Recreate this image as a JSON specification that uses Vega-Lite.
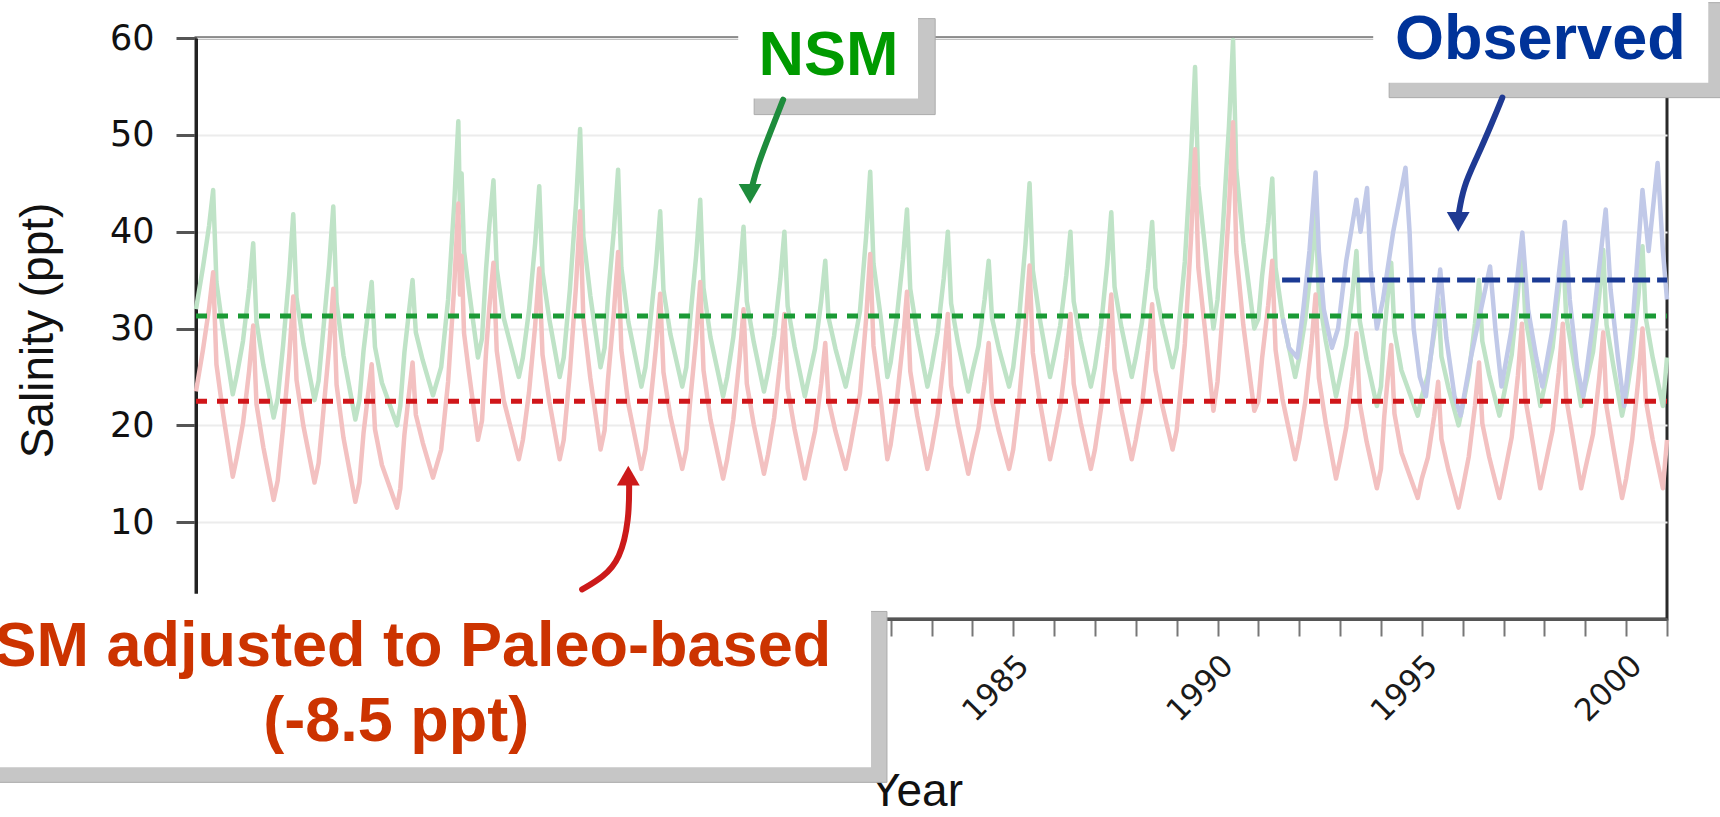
{
  "$schema": "https://vega.github.io/schema/vega-lite/v6.json",
  "width": 1471,
  "height": 581,
  "autosize": {"type": "none"},
  "padding": {"left": 196, "top": 38, "right": 53, "bottom": 198},
  "background": "white",
  "config": {"view": {"stroke": "#2a2a2a", "strokeWidth": 3}, "font": "Liberation Sans"},
  "resolve": {"scale": {"color": "independent"}},
  "datasets": {
    "nsm": [
      {"t":1965.0,"nsm":32,"adj":23.5},{"t":1965.17,"nsm":36.3,"adj":27.8},{"t":1965.32,"nsm":40.6,"adj":32.1},{"t":1965.42,"nsm":44.3,"adj":35.8},{"t":1965.5,"nsm":34.8,"adj":26.3},{"t":1965.67,"nsm":29.5,"adj":21},{"t":1965.9,"nsm":23.2,"adj":14.7},
      {"t":1966.0,"nsm":25.2,"adj":16.7},{"t":1966.15,"nsm":28.7,"adj":20.2},{"t":1966.3,"nsm":34.1,"adj":25.6},{"t":1966.4,"nsm":38.8,"adj":30.3},{"t":1966.48,"nsm":30.7,"adj":22.2},{"t":1966.65,"nsm":26.2,"adj":17.7},{"t":1966.9,"nsm":20.8,"adj":12.3},
      {"t":1967.0,"nsm":22.8,"adj":14.3},{"t":1967.13,"nsm":28.2,"adj":19.7},{"t":1967.28,"nsm":35.5,"adj":27},{"t":1967.38,"nsm":41.8,"adj":33.3},{"t":1967.46,"nsm":33.2,"adj":24.7},{"t":1967.63,"nsm":28.4,"adj":19.9},{"t":1967.9,"nsm":22.6,"adj":14.1},
      {"t":1968.0,"nsm":24.6,"adj":16.1},{"t":1968.11,"nsm":29.6,"adj":21.1},{"t":1968.26,"nsm":36.6,"adj":28.1},{"t":1968.36,"nsm":42.6,"adj":34.1},{"t":1968.44,"nsm":32.7,"adj":24.2},{"t":1968.61,"nsm":27.2,"adj":18.7},{"t":1968.9,"nsm":20.6,"adj":12.1},
      {"t":1969.0,"nsm":22.6,"adj":14.1},{"t":1969.1,"nsm":27.7,"adj":19.2},{"t":1969.2,"nsm":31.3,"adj":22.8},{"t":1969.3,"nsm":34.8,"adj":26.3},{"t":1969.38,"nsm":28.1,"adj":19.6},{"t":1969.55,"nsm":24.4,"adj":15.9},{"t":1969.92,"nsm":20.0,"adj":11.5},
      {"t":1970.0,"nsm":22,"adj":13.5},{"t":1970.1,"nsm":27.5,"adj":19},{"t":1970.2,"nsm":31.3,"adj":22.8},{"t":1970.3,"nsm":35,"adj":26.5},{"t":1970.38,"nsm":29.6,"adj":21.1},{"t":1970.55,"nsm":26.7,"adj":18.2},{"t":1970.8,"nsm":23.1,"adj":14.6},
      {"t":1971.0,"nsm":26,"adj":17.5},{"t":1971.17,"nsm":33,"adj":24.5},{"t":1971.32,"nsm":42.9,"adj":34.4},{"t":1971.42,"nsm":51.4,"adj":42.9},{"t":1971.46,"nsm":42,"adj":33.5},{"t":1971.5,"nsm":46,"adj":37.5},{"t":1971.56,"nsm":38,"adj":29.5},{"t":1971.67,"nsm":34.3,"adj":25.8},{"t":1971.9,"nsm":27,"adj":18.5},
      {"t":1972.0,"nsm":29,"adj":20.5},{"t":1972.1,"nsm":36.2,"adj":27.7},{"t":1972.18,"nsm":40.7,"adj":32.2},{"t":1972.28,"nsm":45.3,"adj":36.8},{"t":1972.36,"nsm":36.2,"adj":27.7},{"t":1972.53,"nsm":31.1,"adj":22.6},{"t":1972.9,"nsm":25,"adj":16.5},
      {"t":1973.0,"nsm":27,"adj":18.5},{"t":1973.15,"nsm":31.9,"adj":23.4},{"t":1973.3,"nsm":38.8,"adj":30.3},{"t":1973.4,"nsm":44.7,"adj":36.2},{"t":1973.48,"nsm":35.8,"adj":27.3},{"t":1973.65,"nsm":30.9,"adj":22.4},{"t":1973.9,"nsm":25,"adj":16.5},
      {"t":1974.0,"nsm":27,"adj":18.5},{"t":1974.15,"nsm":34,"adj":25.5},{"t":1974.3,"nsm":42.9,"adj":34.4},{"t":1974.4,"nsm":50.6,"adj":42.1},{"t":1974.48,"nsm":39.5,"adj":31},{"t":1974.65,"nsm":33.4,"adj":24.9},{"t":1974.9,"nsm":26,"adj":17.5},
      {"t":1975.0,"nsm":28,"adj":19.5},{"t":1975.08,"nsm":33.1,"adj":24.6},{"t":1975.23,"nsm":40.3,"adj":31.8},{"t":1975.33,"nsm":46.4,"adj":37.9},{"t":1975.41,"nsm":36.3,"adj":27.8},{"t":1975.58,"nsm":30.7,"adj":22.2},{"t":1975.9,"nsm":24,"adj":15.5},
      {"t":1976.0,"nsm":26,"adj":17.5},{"t":1976.11,"nsm":30.3,"adj":21.8},{"t":1976.26,"nsm":36.7,"adj":28.2},{"t":1976.36,"nsm":42.1,"adj":33.6},{"t":1976.44,"nsm":34,"adj":25.5},{"t":1976.61,"nsm":29.4,"adj":20.9},{"t":1976.9,"nsm":24,"adj":15.5},
      {"t":1977.0,"nsm":26,"adj":17.5},{"t":1977.09,"nsm":30.8,"adj":22.3},{"t":1977.24,"nsm":37.5,"adj":29},{"t":1977.34,"nsm":43.3,"adj":34.8},{"t":1977.42,"nsm":34.2,"adj":25.7},{"t":1977.59,"nsm":29.1,"adj":20.6},{"t":1977.9,"nsm":23,"adj":14.5},
      {"t":1978.0,"nsm":25,"adj":16.5},{"t":1978.15,"nsm":29.1,"adj":20.6},{"t":1978.3,"nsm":35.3,"adj":26.8},{"t":1978.4,"nsm":40.5,"adj":32},{"t":1978.48,"nsm":32.8,"adj":24.3},{"t":1978.65,"nsm":28.6,"adj":20.1},{"t":1978.9,"nsm":23.5,"adj":15},
      {"t":1979.0,"nsm":25.5,"adj":17},{"t":1979.15,"nsm":29.3,"adj":20.8},{"t":1979.3,"nsm":35.1,"adj":26.6},{"t":1979.4,"nsm":40,"adj":31.5},{"t":1979.48,"nsm":32.3,"adj":23.8},{"t":1979.65,"nsm":28.1,"adj":19.6},{"t":1979.9,"nsm":23,"adj":14.5},
      {"t":1980.0,"nsm":25,"adj":16.5},{"t":1980.15,"nsm":27.9,"adj":19.4},{"t":1980.3,"nsm":32.8,"adj":24.3},{"t":1980.4,"nsm":37,"adj":28.5},{"t":1980.48,"nsm":31.1,"adj":22.6},{"t":1980.65,"nsm":27.9,"adj":19.4},{"t":1980.9,"nsm":24,"adj":15.5},
      {"t":1981.0,"nsm":26,"adj":17.5},{"t":1981.25,"nsm":31.8,"adj":23.3},{"t":1981.4,"nsm":39.5,"adj":31},{"t":1981.5,"nsm":46.2,"adj":37.7},{"t":1981.58,"nsm":36.7,"adj":28.2},{"t":1981.75,"nsm":31.4,"adj":22.9},{"t":1981.92,"nsm":25,"adj":16.5},
      {"t":1982.0,"nsm":26.5,"adj":18},{"t":1982.15,"nsm":31.1,"adj":22.6},{"t":1982.3,"nsm":37.1,"adj":28.6},{"t":1982.4,"nsm":42.3,"adj":33.8},{"t":1982.48,"nsm":34.1,"adj":25.6},{"t":1982.65,"nsm":29.5,"adj":21},{"t":1982.9,"nsm":24,"adj":15.5},
      {"t":1983.0,"nsm":26,"adj":17.5},{"t":1983.15,"nsm":29.6,"adj":21.1},{"t":1983.3,"nsm":35.2,"adj":26.7},{"t":1983.4,"nsm":40,"adj":31.5},{"t":1983.48,"nsm":32.6,"adj":24.1},{"t":1983.65,"nsm":28.5,"adj":20},{"t":1983.9,"nsm":23.5,"adj":15},
      {"t":1984.0,"nsm":25.5,"adj":17},{"t":1984.15,"nsm":28.2,"adj":19.7},{"t":1984.3,"nsm":33,"adj":24.5},{"t":1984.4,"nsm":37,"adj":28.5},{"t":1984.48,"nsm":31.1,"adj":22.6},{"t":1984.65,"nsm":27.9,"adj":19.4},{"t":1984.9,"nsm":24,"adj":15.5},
      {"t":1985.0,"nsm":26,"adj":17.5},{"t":1985.15,"nsm":31.4,"adj":22.9},{"t":1985.3,"nsm":38.7,"adj":30.2},{"t":1985.4,"nsm":45,"adj":36.5},{"t":1985.48,"nsm":36,"adj":27.5},{"t":1985.65,"nsm":31,"adj":22.5},{"t":1985.9,"nsm":25,"adj":16.5},
      {"t":1986.0,"nsm":27,"adj":18.5},{"t":1986.15,"nsm":30.3,"adj":21.8},{"t":1986.3,"nsm":35.5,"adj":27},{"t":1986.4,"nsm":40,"adj":31.5},{"t":1986.48,"nsm":32.8,"adj":24.3},{"t":1986.65,"nsm":28.8,"adj":20.3},{"t":1986.9,"nsm":24,"adj":15.5},
      {"t":1987.0,"nsm":26,"adj":17.5},{"t":1987.15,"nsm":30.3,"adj":21.8},{"t":1987.3,"nsm":36.6,"adj":28.1},{"t":1987.4,"nsm":42,"adj":33.5},{"t":1987.48,"nsm":34.3,"adj":25.8},{"t":1987.65,"nsm":30.1,"adj":21.6},{"t":1987.9,"nsm":25,"adj":16.5},
      {"t":1988.0,"nsm":27,"adj":18.5},{"t":1988.15,"nsm":30.6,"adj":22.1},{"t":1988.3,"nsm":36.2,"adj":27.7},{"t":1988.4,"nsm":41,"adj":32.5},{"t":1988.48,"nsm":34.2,"adj":25.7},{"t":1988.65,"nsm":30.5,"adj":22},{"t":1988.9,"nsm":26,"adj":17.5},
      {"t":1989.0,"nsm":28,"adj":19.5},{"t":1989.2,"nsm":36.9,"adj":28.4},{"t":1989.35,"nsm":47.7,"adj":39.2},{"t":1989.45,"nsm":57,"adj":48.5},{"t":1989.53,"nsm":44.8,"adj":36.3},{"t":1989.7,"nsm":38.1,"adj":29.6},{"t":1989.9,"nsm":30,"adj":21.5},
      {"t":1990.0,"nsm":33,"adj":24.5},{"t":1990.13,"nsm":40.4,"adj":31.9},{"t":1990.28,"nsm":50.9,"adj":42.4},{"t":1990.38,"nsm":59.8,"adj":51.3},{"t":1990.46,"nsm":46.4,"adj":37.9},{"t":1990.63,"nsm":38.9,"adj":30.4},{"t":1990.9,"nsm":30,"adj":21.5},
      {"t":1991.0,"nsm":31,"adj":22.5},{"t":1991.09,"nsm":35.4,"adj":26.9},{"t":1991.24,"nsm":40.9,"adj":32.4},{"t":1991.34,"nsm":45.5,"adj":37},{"t":1991.42,"nsm":36.3,"adj":27.8},{"t":1991.59,"nsm":31.2,"adj":22.7},{"t":1991.9,"nsm":25,"adj":16.5},
      {"t":1992.0,"nsm":27,"adj":18.5},{"t":1992.15,"nsm":31,"adj":22.5},{"t":1992.3,"nsm":36.9,"adj":28.4},{"t":1992.4,"nsm":42,"adj":33.5},{"t":1992.48,"nsm":33.4,"adj":24.9},{"t":1992.65,"nsm":28.7,"adj":20.2},{"t":1992.9,"nsm":23,"adj":14.5},
      {"t":1993.0,"nsm":25,"adj":16.5},{"t":1993.15,"nsm":28.3,"adj":19.8},{"t":1993.3,"nsm":33.5,"adj":25},{"t":1993.4,"nsm":38,"adj":29.5},{"t":1993.48,"nsm":30.8,"adj":22.3},{"t":1993.65,"nsm":26.8,"adj":18.3},{"t":1993.9,"nsm":22,"adj":13.5},
      {"t":1994.0,"nsm":24,"adj":15.5},{"t":1994.08,"nsm":29.4,"adj":20.9},{"t":1994.16,"nsm":33.1,"adj":24.6},{"t":1994.25,"nsm":36.8,"adj":28.3},{"t":1994.33,"nsm":29.7,"adj":21.2},{"t":1994.5,"nsm":25.7,"adj":17.2},{"t":1994.9,"nsm":21,"adj":12.5},
      {"t":1995.0,"nsm":23,"adj":14.5},{"t":1995.15,"nsm":25.2,"adj":16.7},{"t":1995.3,"nsm":29.4,"adj":20.9},{"t":1995.4,"nsm":33,"adj":24.5},{"t":1995.48,"nsm":27.1,"adj":18.6},{"t":1995.65,"nsm":23.9,"adj":15.4},{"t":1995.9,"nsm":20,"adj":11.5},
      {"t":1996.0,"nsm":22,"adj":13.5},{"t":1996.15,"nsm":25.3,"adj":16.8},{"t":1996.3,"nsm":30.5,"adj":22},{"t":1996.4,"nsm":35,"adj":26.5},{"t":1996.48,"nsm":28.7,"adj":20.2},{"t":1996.65,"nsm":25.2,"adj":16.7},{"t":1996.9,"nsm":21,"adj":12.5},
      {"t":1997.0,"nsm":23,"adj":14.5},{"t":1997.2,"nsm":27.3,"adj":18.8},{"t":1997.35,"nsm":33.6,"adj":25.1},{"t":1997.45,"nsm":39,"adj":30.5},{"t":1997.53,"nsm":31.3,"adj":22.8},{"t":1997.7,"nsm":27.1,"adj":18.6},{"t":1997.9,"nsm":22,"adj":13.5},
      {"t":1998.0,"nsm":24,"adj":15.5},{"t":1998.2,"nsm":28,"adj":19.5},{"t":1998.35,"nsm":33.9,"adj":25.4},{"t":1998.45,"nsm":39,"adj":30.5},{"t":1998.53,"nsm":31.4,"adj":22.9},{"t":1998.7,"nsm":27.1,"adj":18.6},{"t":1998.9,"nsm":22,"adj":13.5},
      {"t":1999.0,"nsm":24,"adj":15.5},{"t":1999.19,"nsm":27.6,"adj":19.1},{"t":1999.34,"nsm":33.3,"adj":24.8},{"t":1999.44,"nsm":38.1,"adj":29.6},{"t":1999.52,"nsm":30.4,"adj":21.9},{"t":1999.69,"nsm":26.1,"adj":17.6},{"t":1999.9,"nsm":21,"adj":12.5},
      {"t":2000.0,"nsm":23,"adj":14.5},{"t":2000.15,"nsm":27.1,"adj":18.6},{"t":2000.3,"nsm":33.3,"adj":24.8},{"t":2000.4,"nsm":38.5,"adj":30},{"t":2000.48,"nsm":31.1,"adj":22.6},{"t":2000.65,"nsm":27,"adj":18.5},{"t":2000.9,"nsm":22,"adj":13.5},
      {"t":2001.0,"nsm":27,"adj":18.5}
    ],
    "obs": [
      {"t":1991.6,"v":31},{"t":1991.75,"v":28},{"t":1991.95,"v":27},{"t":1992.1,"v":32},{"t":1992.25,"v":38},{"t":1992.4,"v":46.1},{"t":1992.48,"v":38},{"t":1992.6,"v":32},{"t":1992.8,"v":28},
      {"t":1992.95,"v":30},{"t":1993.15,"v":37},{"t":1993.4,"v":43.3},{"t":1993.5,"v":40},{"t":1993.66,"v":44.5},{"t":1993.75,"v":36},{"t":1993.9,"v":30},
      {"t":1994.05,"v":33},{"t":1994.3,"v":40},{"t":1994.6,"v":46.6},{"t":1994.7,"v":40},{"t":1994.8,"v":30},{"t":1994.95,"v":25},
      {"t":1995.1,"v":23},{"t":1995.3,"v":30},{"t":1995.45,"v":36.1},{"t":1995.6,"v":29},{"t":1995.8,"v":23},{"t":1995.95,"v":21},
      {"t":1996.2,"v":27},{"t":1996.45,"v":32},{"t":1996.67,"v":36.4},{"t":1996.8,"v":30},{"t":1996.95,"v":24},
      {"t":1997.2,"v":30},{"t":1997.46,"v":39.9},{"t":1997.6,"v":32},{"t":1997.8,"v":27},{"t":1997.95,"v":24},
      {"t":1998.2,"v":30},{"t":1998.5,"v":41},{"t":1998.62,"v":33},{"t":1998.8,"v":26},{"t":1998.95,"v":23},
      {"t":1999.2,"v":31},{"t":1999.5,"v":42.3},{"t":1999.62,"v":34},{"t":1999.8,"v":27},{"t":1999.95,"v":22},
      {"t":2000.15,"v":30},{"t":2000.4,"v":44.3},{"t":2000.55,"v":38},{"t":2000.77,"v":47.1},{"t":2000.9,"v":38},{"t":2001.0,"v":33}
    ],
    "means": [
      {"series":"NSM","t":1965,"t2":2001,"v":31.3},
      {"series":"Adjusted","t":1965,"t2":2001,"v":22.5}
    ],
    "obsmean": [
      {"series":"Observed","t":1991.58,"t2":2001,"v":35.0}
    ],
    "shadows": [
      {"box":"adjusted","t":1959,"t2":1981.91,"v":0.78,"v2":-16.87},
      {"box":"NSM","t":1978.66,"t2":1983.09,"v":62.0,"v2":52.09},
      {"box":"Observed","t":1994.2,"t2":2003,"v":63.65,"v2":53.84}
    ],
    "boxes": [
      {"box":"adjusted","t":1958.5,"t2":1981.52,"v":2.6,"v2":-15.32},
      {"box":"NSM","t":1978.27,"t2":1982.67,"v":63.54,"v2":53.74},
      {"box":"Observed","t":1993.81,"t2":2002.01,"v":66,"v2":55.39}
    ],
    "arrows": [
      {"arrow":"NSM","order":1,"t":1979.37,"v":53.63},{"arrow":"NSM","order":2,"t":1979.05,"v":50.22},{"arrow":"NSM","order":3,"t":1978.73,"v":46.71},{"arrow":"NSM","order":4,"t":1978.6,"v":44.5},
      {"arrow":"Observed","order":1,"t":1996.97,"v":53.84},{"arrow":"Observed","order":2,"t":1996.75,"v":51.56},{"arrow":"Observed","order":3,"t":1996.36,"v":47.74},{"arrow":"Observed","order":4,"t":1996.01,"v":44.64},{"arrow":"Observed","order":5,"t":1995.89,"v":41.5},
      {"arrow":"adjusted","order":1,"t":1974.45,"v":3.05},{"arrow":"adjusted","order":2,"t":1974.96,"v":4.29},{"arrow":"adjusted","order":3,"t":1975.38,"v":6.15},{"arrow":"adjusted","order":4,"t":1975.6,"v":10.28},{"arrow":"adjusted","order":5,"t":1975.6,"v":14.0}
    ],
    "heads": [
      {"arrow":"NSM","t":1978.56,"v":43.9},
      {"arrow":"Observed","t":1995.89,"v":41.0},
      {"arrow":"adjusted","t":1975.58,"v":14.8}
    ],
    "labels": [
      {"box":"NSM","label":"NSM","t":1980.48,"v":56.21},
      {"box":"Observed","label":"Observed","t":1997.9,"v":57.87},
      {"box":"adjusted","label":"NSM adjusted to Paleo-based","t":1969.75,"v":-4.89},
      {"box":"adjusted","label":"(-8.5 ppt)","t":1969.9,"v":-12.63}
    ]
  },
  "layer": [
    {
      "data": {"name": "nsm"},
      "transform": [{"fold": ["nsm", "adj"], "as": ["s", "v"]}],
      "mark": {"type": "line", "strokeWidth": 4.5, "strokeJoin": "round"},
      "encoding": {
        "x": {
          "field": "t", "type": "quantitative",
          "scale": {"domain": [1965, 2001], "nice": false, "zero": false},
          "axis": {
            "title": "Year",
            "values": [1965,1966,1967,1968,1969,1970,1971,1972,1973,1974,1975,1976,1977,1978,1979,1980,1981,1982,1983,1984,1985,1986,1987,1988,1989,1990,1991,1992,1993,1994,1995,1996,1997,1998,1999,2000,2001],
            "format": "d",
            "labelExpr": "datum.value % 5 === 0 ? datum.label : ''",
            "labelAngle": -45,
            "labelFont": "DejaVu Sans",
            "labelFontSize": 31,
            "labelColor": "#1a1a1a",
            "labelPadding": 14,
            "labelOverlap": false,
            "labelFlush": false,
            "tickSize": 17,
            "tickWidth": 2,
            "tickColor": "#777",
            "domainColor": "#555",
            "domainWidth": 3,
            "grid": false,
            "titleFont": "Liberation Sans",
            "titleFontSize": 46,
            "titleFontWeight": "normal",
            "titleColor": "#111",
            "titleX": 720,
            "titleY": 150,
            "titleBaseline": "top"
          }
        },
        "y": {
          "field": "v", "type": "quantitative",
          "scale": {"domain": [0, 60], "nice": false},
          "axis": {
            "title": "Salinity (ppt)",
            "values": [10, 20, 30, 40, 50, 60],
            "labelFont": "DejaVu Sans",
            "labelFontSize": 35,
            "labelColor": "#111",
            "labelPadding": 22,
            "tickSize": 20,
            "tickWidth": 3,
            "tickColor": "#555",
            "domainColor": "#222",
            "domainWidth": 3,
            "grid": true,
            "gridColor": "#ececec",
            "gridWidth": 2,
            "titleFont": "Liberation Sans",
            "titleFontSize": 46,
            "titleFontWeight": "normal",
            "titleColor": "#111",
            "titleX": -158,
            "titleY": 292,
            "titleAngle": 270,
            "titleAlign": "center",
            "titleBaseline": "middle"
          }
        },
        "color": {
          "field": "s", "type": "nominal",
          "scale": {"domain": ["nsm", "adj"], "range": ["#bfe3c7", "#f3c1c1"]},
          "legend": null
        }
      }
    },
    {
      "data": {"name": "obs"},
      "mark": {"type": "line", "strokeWidth": 4.5, "strokeJoin": "round", "color": "#c1c9e8"},
      "encoding": {
        "x": {"field": "t", "type": "quantitative"},
        "y": {"field": "v", "type": "quantitative"}
      }
    },
    {
      "data": {"name": "means"},
      "mark": {"type": "rule", "strokeWidth": 5, "strokeDash": [11, 10]},
      "encoding": {
        "x": {"field": "t", "type": "quantitative"},
        "x2": {"field": "t2"},
        "y": {"field": "v", "type": "quantitative"},
        "color": {
          "field": "series", "type": "nominal",
          "scale": {"domain": ["NSM", "Adjusted"], "range": ["#1a9a35", "#d0161a"]},
          "legend": null
        }
      }
    },
    {
      "data": {"name": "obsmean"},
      "mark": {"type": "rule", "strokeWidth": 5, "strokeDash": [18, 7], "color": "#1a3a94"},
      "encoding": {
        "x": {"field": "t", "type": "quantitative"},
        "x2": {"field": "t2"},
        "y": {"field": "v", "type": "quantitative"}
      }
    },
    {
      "data": {"name": "shadows"},
      "mark": {"type": "rect", "color": "#c6c6c6", "stroke": "#ababab", "strokeWidth": 1},
      "encoding": {
        "x": {"field": "t", "type": "quantitative"},
        "x2": {"field": "t2"},
        "y": {"field": "v", "type": "quantitative"},
        "y2": {"field": "v2"}
      }
    },
    {
      "data": {"name": "boxes"},
      "mark": {"type": "rect", "color": "white"},
      "encoding": {
        "x": {"field": "t", "type": "quantitative"},
        "x2": {"field": "t2"},
        "y": {"field": "v", "type": "quantitative"},
        "y2": {"field": "v2"}
      }
    },
    {
      "data": {"name": "arrows"},
      "mark": {"type": "line", "strokeWidth": 6, "interpolate": "basis", "strokeCap": "round"},
      "encoding": {
        "x": {"field": "t", "type": "quantitative"},
        "y": {"field": "v", "type": "quantitative"},
        "order": {"field": "order"},
        "color": {
          "field": "arrow", "type": "nominal",
          "scale": {"domain": ["NSM", "Observed", "adjusted"], "range": ["#1e8c3c", "#1f3a93", "#cc1a1a"]},
          "legend": null
        }
      }
    },
    {
      "data": {"name": "heads"},
      "transform": [{"filter": "datum.arrow !== 'adjusted'"}],
      "mark": {"type": "point", "shape": "triangle-down", "filled": true, "size": 520, "opacity": 1},
      "encoding": {
        "x": {"field": "t", "type": "quantitative"},
        "y": {"field": "v", "type": "quantitative"},
        "color": {
          "field": "arrow", "type": "nominal",
          "scale": {"domain": ["NSM", "Observed", "adjusted"], "range": ["#1e8c3c", "#1f3a93", "#cc1a1a"]},
          "legend": null
        }
      }
    },
    {
      "data": {"name": "heads"},
      "transform": [{"filter": "datum.arrow === 'adjusted'"}],
      "mark": {"type": "point", "shape": "triangle-up", "filled": true, "size": 520, "opacity": 1},
      "encoding": {
        "x": {"field": "t", "type": "quantitative"},
        "y": {"field": "v", "type": "quantitative"},
        "color": {
          "field": "arrow", "type": "nominal",
          "scale": {"domain": ["NSM", "Observed", "adjusted"], "range": ["#1e8c3c", "#1f3a93", "#cc1a1a"]},
          "legend": null
        }
      }
    },
    {
      "data": {"name": "labels"},
      "mark": {"type": "text", "font": "Liberation Sans", "fontWeight": "bold", "fontSize": 63, "align": "center", "baseline": "alphabetic"},
      "encoding": {
        "x": {"field": "t", "type": "quantitative"},
        "y": {"field": "v", "type": "quantitative"},
        "text": {"field": "label"},
        "color": {
          "field": "box", "type": "nominal",
          "scale": {"domain": ["NSM", "Observed", "adjusted"], "range": ["#009a00", "#003399", "#cc3300"]},
          "legend": null
        }
      }
    }
  ]
}
